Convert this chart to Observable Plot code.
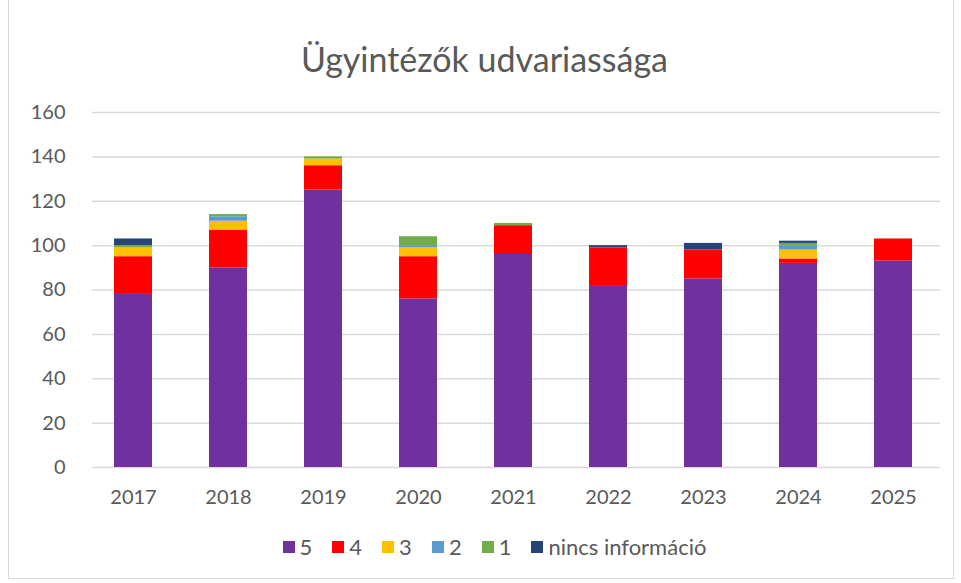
<!DOCTYPE html>
<html>
<head>
<meta charset="utf-8">
<script src="https://cdn.jsdelivr.net/npm/d3@7"></script>
<script src="https://cdn.jsdelivr.net/npm/@observablehq/plot@0.6"></script>
<style>
  body { margin: 0; background: #fff; font-family: Lato, "Open Sans", sans-serif; }
  #frame { position: absolute; left: 8px; top: 0px; width: 946px; height: 579px; border: 1px solid #d9d9d9; border-top: none; box-sizing: border-box; }
  #wrap { position: absolute; left: 0; top: 0; width: 961px; }
  #title { height: 90px; line-height: 118px; text-align: center; font-size: 34px; color: #595959; padding-left: 8px; }
  #legend { display: flex; justify-content: center; gap: 20px; font-size: 22px; color: #595959; margin-top: 23px; padding-left: 28px; }
  #legend span.item { display: flex; align-items: center; gap: 5px; }
  #legend span.sw { width: 12px; height: 12px; display: inline-block; }
</style>
</head>
<body>
<div id="frame"></div>
<div id="wrap">
  <div id="title">Ügyintézők udvariassága</div>
  <div id="chart"></div>
  <div id="legend"></div>
</div>
<script>
const years = ["2017","2018","2019","2020","2021","2022","2023","2024","2025"];
const seriesNames = ["5","4","3","2","1","nincs információ"];
const colors = ["#7030A0","#FF0000","#FFC000","#5B9BD5","#70AD47","#264478"];
const s5 = [78, 90, 125, 76, 96, 82, 85, 92, 93];
const s4 = [17, 17, 11, 19, 13, 17, 13, 2, 10];
const s3 = [4, 4, 3, 4, 0, 0, 0, 4, 0];
const s2 = [0, 2, 0, 1, 0, 0, 0, 2, 0];
const s1 = [1, 1, 1, 4, 1, 0, 0, 1, 0];
const sN = [3, 0, 0, 0, 0, 1, 3, 1, 0];
const yTicks = [0, 20, 40, 60, 80, 100, 120, 140, 160];

const allSeries = [s5, s4, s3, s2, s1, sN];
const rows = [];
seriesNames.forEach((name, i) => {
  years.forEach((yr, j) => rows.push({year: yr, series: name, value: allSeries[i][j]}));
});

const chart = Plot.plot({
  width: 961,
  height: 420,
  marginLeft: 85,
  marginRight: 21,
  marginTop: 22,
  marginBottom: 43,
  style: {fontFamily: "Lato, 'Open Sans', sans-serif", fontSize: "20px", color: "#595959"},
  x: {domain: years, paddingInner: 0.6, paddingOuter: 0.3, align: 0.5, label: null, tickSize: 0},
  y: {domain: [0, 160], ticks: yTicks, label: null, tickSize: 0},
  color: {domain: seriesNames, range: colors},
  marks: [
    Plot.ruleY(yTicks, {stroke: "#d9d9d9", strokeWidth: 1.5, insetLeft: 7}),
    Plot.barY(rows, Plot.stackY({order: seriesNames}, {x: "year", y: "value", fill: "series", z: "series"})),
    Plot.axisY({ticks: yTicks, tickSize: 0, tickPadding: 20, label: null, fill: "#595959"}),
    Plot.axisX({tickSize: 0, tickPadding: 22, label: null, fill: "#595959"})
  ]
});
document.getElementById("chart").appendChild(chart);

const legend = document.getElementById("legend");
seriesNames.forEach((name, i) => {
  const item = document.createElement("span");
  item.className = "item";
  const sw = document.createElement("span");
  sw.className = "sw";
  sw.style.background = colors[i];
  item.appendChild(sw);
  item.appendChild(document.createTextNode(name));
  legend.appendChild(item);
});
</script>
</body>
</html>
